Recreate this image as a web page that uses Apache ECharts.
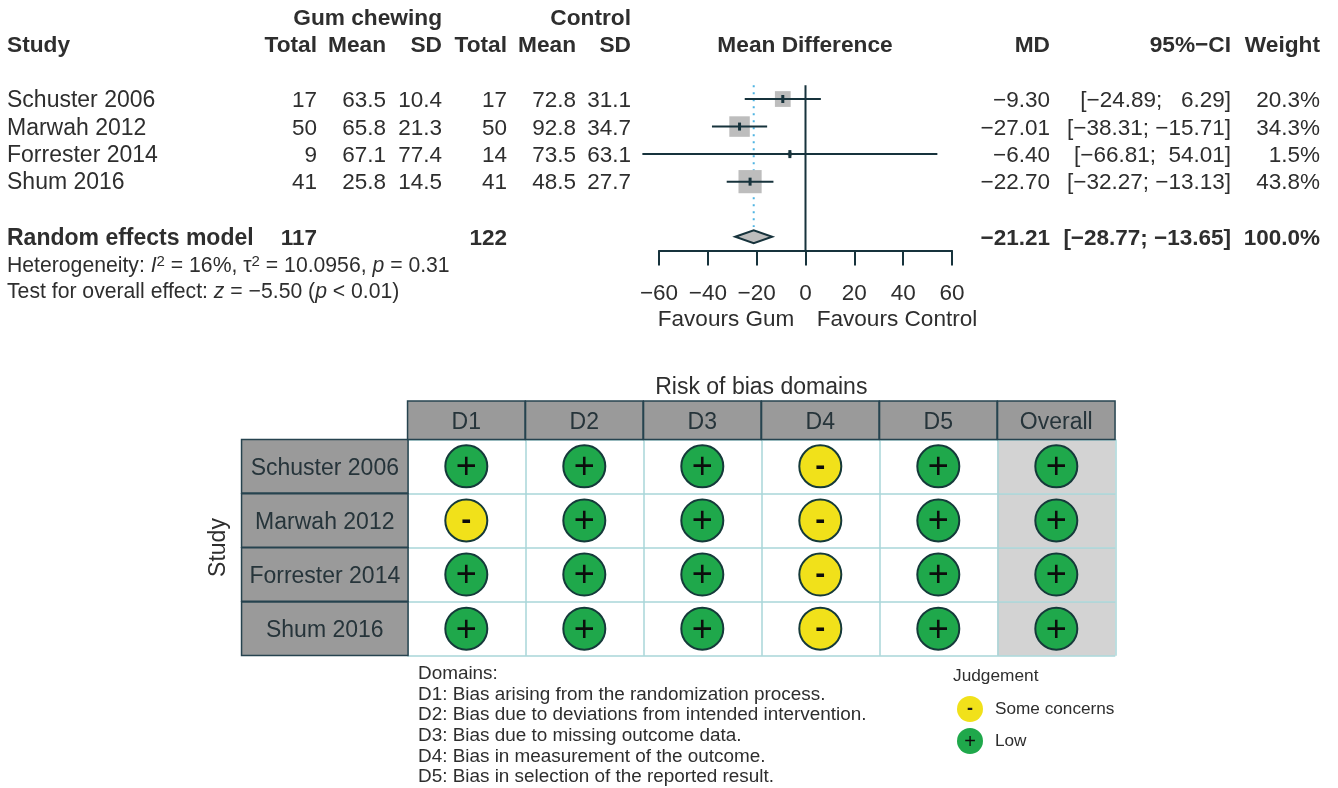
<!DOCTYPE html>
<html>
<head>
<meta charset="utf-8">
<style>
  html, body { margin: 0; padding: 0; background: #fff; }
  #chart { width: 1338px; height: 788px; }
</style>
</head>
<body>
<div id="chart"></div>
<script src="https://cdn.jsdelivr.net/npm/echarts@6/dist/echarts.min.js"></script>
<script>
// forest plot table
var studies = ['Schuster 2006', 'Marwah 2012', 'Forrester 2014', 'Shum 2016']
var totalGum = [17, 50, 9, 41]
var meanGum = [63.5, 65.8, 67.1, 25.8]
var sdGum = [10.4, 21.3, 77.4, 14.5]
var totalControl = [17, 50, 14, 41]
var meanControl = [72.8, 92.8, 73.5, 48.5]
var sdControl = [31.1, 34.7, 63.1, 27.7]
var md = [-9.30, -27.01, -6.40, -22.70]
var ciLower = [-24.89, -38.31, -66.81, -32.27]
var ciUpper = [6.29, -15.71, 54.01, -13.13]
var weight = [20.3, 34.3, 1.5, 43.8]

// pooled result
var modelName = 'Random effects model'
var modelTotalGum = 117
var modelTotalControl = 122
var modelMd = -21.21
var modelLower = -28.77
var modelUpper = -13.65
var modelWeight = 100.0

// risk of bias table
var domains = ['D1', 'D2', 'D3', 'D4', 'D5', 'Overall']
var robSchuster = ['+', '+', '+', '-', '+', '+']
var robMarwah = ['-', '+', '+', '-', '+', '+']
var robForrester = ['+', '+', '+', '-', '+', '+']
var robShum = ['+', '+', '+', '-', '+', '+']
var domainNotes = [
  'Domains:',
  'D1: Bias arising from the randomization process.',
  'D2: Bias due to deviations from intended intervention.',
  'D3: Bias due to missing outcome data.',
  'D4: Bias in measurement of the outcome.',
  'D5: Bias in selection of the reported result.'
]

var FONT = '"Liberation Sans", Arial, sans-serif'
var INK = '#2e2e2e'
var LINE = '#17333c'
var GREY = '#bdbdbd'

function minus (s) {
  return String(s).replace('-', '\u2212')
}

function ciText (lo, hi) {
  return '[' + minus(lo.toFixed(2)) + '; ' + minus(hi.toFixed(2)).padStart(6, ' ') + ']'
}

// one piece of text at a fixed place on the page
function label (text, x, y, align, size, bold, extra) {
  return {
    type: 'text',
    x: x,
    y: y + 2,
    z: 10,
    style: Object.assign({
      text: text,
      align: align,
      verticalAlign: 'middle',
      font: (bold ? 'bold ' : '') + size + 'px ' + FONT,
      fill: INK
    }, extra || {})
  }
}

var rowY = [99, 127, 154, 181]
var modelY = 237
var graphics = []

// table headers
graphics.push(label('Gum chewing', 442, 17, 'right', 22.7, true))
graphics.push(label('Control', 631, 17, 'right', 22.7, true))
var headerCells = [
  ['Study', 7, 'left'], ['Total', 317, 'right'], ['Mean', 386, 'right'], ['SD', 442, 'right'],
  ['Total', 507, 'right'], ['Mean', 576, 'right'], ['SD', 631, 'right'],
  ['Mean Difference', 805, 'center'], ['MD', 1050, 'right'], ['95%\u2212CI', 1231, 'right'], ['Weight', 1320, 'right']
]
headerCells.forEach(function (c) {
  graphics.push(label(c[0], c[1], 44, c[2], 22.7, true))
})

// study rows
studies.forEach(function (name, i) {
  var y = rowY[i]
  graphics.push(label(name, 7, y, 'left', 23))
  graphics.push(label(String(totalGum[i]), 317, y, 'right', 22.5))
  graphics.push(label(meanGum[i].toFixed(1), 386, y, 'right', 22.5))
  graphics.push(label(sdGum[i].toFixed(1), 442, y, 'right', 22.5))
  graphics.push(label(String(totalControl[i]), 507, y, 'right', 22.5))
  graphics.push(label(meanControl[i].toFixed(1), 576, y, 'right', 22.5))
  graphics.push(label(sdControl[i].toFixed(1), 631, y, 'right', 22.5))
  graphics.push(label(minus(md[i].toFixed(2)), 1050, y, 'right', 22.5))
  graphics.push(label(ciText(ciLower[i], ciUpper[i]), 1231, y, 'right', 22.5))
  graphics.push(label(weight[i].toFixed(1) + '%', 1320, y, 'right', 22.5))
})

// pooled row
graphics.push(label(modelName, 7, modelY, 'left', 23, true))
graphics.push(label(String(modelTotalGum), 317, modelY, 'right', 22.5, true))
graphics.push(label(String(modelTotalControl), 507, modelY, 'right', 22.5, true))
graphics.push(label(minus(modelMd.toFixed(2)), 1050, modelY, 'right', 22.5, true))
graphics.push(label(ciText(modelLower, modelUpper), 1231, modelY, 'right', 22.5, true))
graphics.push(label(modelWeight.toFixed(1) + '%', 1320, modelY, 'right', 22.5, true))

// notes under the table, with italics and superscripts
var noteRich = {
  i: { fontStyle: 'italic', fontSize: 21.2, fontFamily: FONT, fill: INK },
  n: { fontSize: 21.2, fontFamily: FONT, fill: INK },
  sup: { fontSize: 15, fontFamily: FONT, fill: INK, verticalAlign: 'top', padding: [0, 0, 8, 0] }
}
graphics.push(label('{n|Heterogeneity: }{i|I}{sup|2}{n| = 16%, \u03C4}{sup|2}{n| = 10.0956, }{i|p}{n| = 0.31}',
  7, 264, 'left', 21.2, false, { rich: noteRich }))
graphics.push(label('{n|Test for overall effect: }{i|z}{n| = \u22125.50 (}{i|p}{n| < 0.01)}',
  7, 290, 'left', 21.2, false, { rich: noteRich }))

graphics.push(label('Favours Gum', 726, 318, 'center', 22.5))
graphics.push(label('Favours Control', 897, 318, 'center', 22.6))

// risk of bias notes
domainNotes.forEach(function (t, i) {
  graphics.push(label(t, 418, 672 + i * 20.6, 'left', 18.9))
})
graphics.push(label('Judgement', 953, 674, 'left', 17.3))
graphics.push(label('-', 970, 707, 'center', 18, true, { fill: '#1a1a1a' }))
graphics.push(label('+', 970, 740, 'center', 20, false, { fill: '#0c0c0c' }))

// forest series data
var ciData = studies.map(function (s, i) {
  return [md[i], i, ciLower[i], ciUpper[i], weight[i]]
})
var modelRow = studies.length + 1

function renderStudy (params, api) {
  var c = api.coord([api.value(0), api.value(1)])
  var a = api.coord([api.value(2), api.value(1)])
  var b = api.coord([api.value(3), api.value(1)])
  var side = Math.sqrt(api.value(4)) * 3.5
  return {
    type: 'group',
    children: [
      { type: 'rect', shape: { x: c[0] - side / 2, y: c[1] - side / 2, width: side, height: side }, style: { fill: GREY } },
      { type: 'line', shape: { x1: a[0], y1: a[1], x2: b[0], y2: b[1] }, style: { stroke: LINE, lineWidth: 2 } },
      { type: 'rect', shape: { x: c[0] - 1.5, y: c[1] - 4, width: 3, height: 8 }, style: { fill: LINE } }
    ]
  }
}

function renderDiamond (params, api) {
  var l = api.coord([api.value(1), api.value(3)])
  var r = api.coord([api.value(2), api.value(3)])
  var c = api.coord([api.value(0), api.value(3)])
  return {
    type: 'polygon',
    shape: { points: [[l[0], l[1]], [c[0], c[1] - 6.5], [r[0], r[1]], [c[0], c[1] + 6.5]] },
    style: { fill: GREY, stroke: LINE, lineWidth: 2 }
  }
}

// risk of bias points, one series per judgement
var robRows = [robSchuster, robMarwah, robForrester, robShum]
var lowPoints = []
var concernPoints = []
robRows.forEach(function (row, r) {
  row.forEach(function (mark, d) {
    if (mark === '+') lowPoints.push([domains[d], studies[r]])
    else concernPoints.push([domains[d], studies[r]])
  })
})
var overallCells = studies.map(function (s) {
  return ['Overall', s]
})

function renderCell (params, api) {
  var c = api.coord([api.value(0), api.value(1)])
  var s = api.size([1, 1])
  return {
    type: 'rect',
    shape: { x: c[0] - s[0] / 2, y: c[1] - s[1] / 2, width: s[0], height: s[1] },
    style: { fill: '#d3d3d3' }
  }
}

function markSeries (name, points, color, sign, signSize, bold, dy) {
  return {
    name: name,
    type: 'scatter',
    xAxisIndex: 1,
    yAxisIndex: 1,
    symbol: 'circle',
    symbolSize: 42,
    z: 4,
    itemStyle: { color: color, borderColor: '#153a3a', borderWidth: 2, opacity: 1 },
    label: {
      show: true,
      position: 'inside',
      offset: [0, dy],
      formatter: sign,
      fontFamily: FONT,
      fontSize: signSize,
      fontWeight: bold ? 'bold' : 'normal',
      color: '#0c0c0c'
    },
    data: points
  }
}

var chart = echarts.init(document.getElementById('chart'))

chart.setOption({
  backgroundColor: '#fff',
  animation: false,
  textStyle: { fontFamily: FONT },
  graphic: graphics,
  legend: {
    orient: 'vertical',
    left: 952,
    top: 691,
    itemWidth: 26,
    itemHeight: 26,
    itemGap: 6,
    icon: 'circle',
    data: ['Some concerns', 'Low'],
    itemStyle: { borderWidth: 0 },
    textStyle: { fontFamily: FONT, fontSize: 17.2, color: INK, padding: [0, 0, 0, 7] }
  },
  grid: [
    { left: 659, top: 85.25, width: 293, height: 165.25 },
    { left: 407.3, top: 439.3, width: 708, height: 216.4 }
  ],
  xAxis: [
    {
      type: 'value',
      gridIndex: 0,
      position: 'bottom',
      min: -60,
      max: 60,
      interval: 20,
      splitLine: { show: false },
      axisLine: { show: true, onZero: false, lineStyle: { color: LINE, width: 2 } },
      axisTick: { show: true, length: 15, lineStyle: { color: LINE, width: 2 } },
      axisLabel: {
        margin: 32,
        fontFamily: FONT,
        fontSize: 22.5,
        color: INK,
        hideOverlap: false,
        formatter: function (v) { return minus(v) }
      }
    },
    {
      type: 'category',
      gridIndex: 1,
      position: 'top',
      data: domains,
      name: 'Risk of bias domains',
      nameLocation: 'middle',
      nameGap: 39,
      nameTextStyle: { fontFamily: FONT, fontSize: 23, color: INK },
      axisLine: { show: false },
      axisTick: { show: false },
      splitLine: { show: true, lineStyle: { color: '#a9d6d8', width: 1.5 } },
      axisLabel: {
        margin: 2.5,
        interval: 0,
        formatter: function (v) { return '{b|' + v + '}' },
        rich: {
          b: {
            width: 116,
            height: 33,
            lineHeight: 33,
            padding: [4, 0, 0, 0],
            align: 'center',
            backgroundColor: '#9a9a9a',
            borderColor: '#26434f',
            borderWidth: 1.5,
            fontFamily: FONT,
            fontSize: 23,
            color: '#26343a'
          }
        }
      }
    }
  ],
  yAxis: [
    {
      type: 'value',
      gridIndex: 0,
      inverse: true,
      min: -0.5,
      max: 5.5,
      show: false
    },
    {
      type: 'category',
      gridIndex: 1,
      inverse: true,
      data: studies,
      name: 'Study',
      nameLocation: 'middle',
      nameRotate: 90,
      nameGap: 166,
      nameTextStyle: { fontFamily: FONT, fontSize: 23, color: INK },
      axisLine: { show: false },
      axisTick: { show: false },
      splitLine: { show: true, lineStyle: { color: '#a9d6d8', width: 1.5 } },
      axisLabel: {
        margin: 0,
        interval: 0,
        formatter: function (v) { return '{b|' + v + '}' },
        rich: {
          b: {
            width: 165,
            height: 48,
            lineHeight: 48,
            padding: [4, 0, 0, 0],
            align: 'center',
            backgroundColor: '#9a9a9a',
            borderColor: '#26434f',
            borderWidth: 1.5,
            fontFamily: FONT,
            fontSize: 23,
            color: '#26343a'
          }
        }
      }
    }
  ],
  series: [
    {
      name: 'Pooled MD line',
      type: 'line',
      xAxisIndex: 0,
      yAxisIndex: 0,
      symbol: 'none',
      z: 1,
      lineStyle: { color: '#4fb4e2', width: 2, type: [2, 5] },
      data: [[modelMd, -0.5], [modelMd, 4.65]]
    },
    {
      name: 'Studies',
      type: 'custom',
      xAxisIndex: 0,
      yAxisIndex: 0,
      clip: false,
      z: 2,
      renderItem: renderStudy,
      encode: { x: [0, 2, 3], y: 1 },
      data: ciData
    },
    {
      name: 'No effect',
      type: 'line',
      xAxisIndex: 0,
      yAxisIndex: 0,
      symbol: 'none',
      z: 3,
      lineStyle: { color: LINE, width: 2 },
      data: [[0, -0.5], [0, 5.5]]
    },
    {
      name: 'Model',
      type: 'custom',
      xAxisIndex: 0,
      yAxisIndex: 0,
      clip: false,
      z: 3,
      renderItem: renderDiamond,
      encode: { x: [0, 1, 2], y: 3 },
      data: [[modelMd, modelLower, modelUpper, modelRow]]
    },
    {
      name: 'Overall column',
      type: 'custom',
      xAxisIndex: 1,
      yAxisIndex: 1,
      z: -1,
      renderItem: renderCell,
      encode: { x: 0, y: 1 },
      data: overallCells
    },
    markSeries('Some concerns', concernPoints, '#f1e11a', '-', 30, true, 0),
    markSeries('Low', lowPoints, '#1fa84b', '+', 36, false, 2)
  ]
})
</script>
</body>
</html>
